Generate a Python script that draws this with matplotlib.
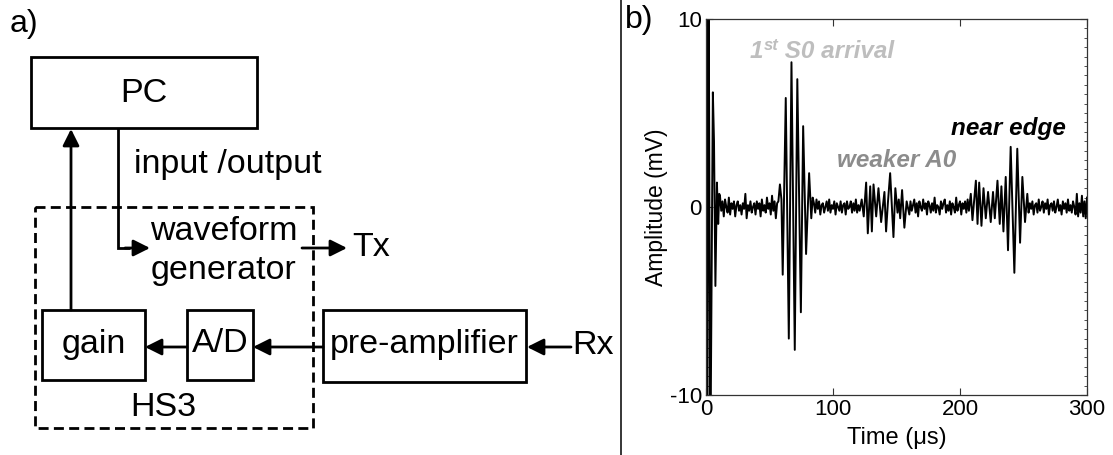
import numpy as np
import matplotlib
matplotlib.use('Agg')
import matplotlib.pyplot as plt
from matplotlib.patches import Rectangle
from matplotlib.lines import Line2D
from matplotlib.ticker import MultipleLocator

plt.rcParams['font.family'] = ['Liberation Sans', 'DejaVu Sans']
plt.rcParams['axes.unicode_minus'] = False

# ---------------- data ----------------
# direct / crosstalk burst at t=0 (clipped by the axis limits)
t_direct = [0.0, 0.4, 1.0, 2.0, 3.4, 5.4, 6.3, 7.4, 8.6, 9.6, 10.4]
a_direct = [0.0, 14.0, -14.0, 14.0, -14.0, 6.1, 3.5, -4.2, 1.3, -0.9, 0.7]

# background noise 11..56 us (1 us step)
noise1_start = 11.0
noise1 = [0.6, -0.2, 0.3, -0.5, 0.4, 0.0, -0.3, 0.5, -0.4, 0.2, -0.1, 0.3,
          -0.5, 0.1, 0.3, -0.2, 0.1, -0.4, 0.2, -0.1, 0.7, -0.6, 0.1, -0.2,
          0.3, -0.3, 0.0, 0.2, -0.4, 0.3, -0.1, 0.2, -0.5, 0.4, -0.2, 0.1,
          -0.3, 0.5, -0.1, 0.2, -0.4, 0.6, -0.2, 0.3, -0.6, 0.2]

# first S0 arrival
t_s0 = [57.0, 58.2, 59.4, 60.4, 62.8, 65.2, 67.3, 69.9, 71.9, 74.7, 76.5,
        78.8, 81.2, 82.9, 84.0]
a_s0 = [0.3, 1.2, 0.4, -3.6, 5.8, -7.0, 7.7, -7.6, 6.8, -5.6, 4.3,
        -2.5, 1.8, -0.6, 0.5]

noise2_start = 85.0
noise2 = [0.2, -0.3, 0.4, -0.1, 0.3, -0.4, 0.1, 0.2, -0.3, 0.0, 0.3, -0.2,
          0.4, -0.3, 0.1, -0.1, 0.3, -0.4, 0.2, 0.0, -0.2, 0.3, -0.3, 0.1,
          0.2, -0.4, 0.3, -0.1, 0.0, 0.3, -0.3, 0.2, -0.2, 0.4, -0.3, 0.1, -0.2]

# weaker A0
t_a0 = [122.6, 124.2, 126.1, 127.4, 129.3, 130.6, 131.9, 134.0, 135.8, 137.9,
        140.5, 141.8, 143.2, 145.0, 147.6, 149.1, 150.8, 151.8, 152.9, 154.4,
        156.2, 158.0, 160.1]
a_a0 = [0.4, -0.5, 1.3, -1.4, 1.1, -1.3, 1.2, -0.5, 1.0, -0.8,
        0.8, -1.3, 0.2, 1.8, -1.6, 1.0, -0.3, 0.4, -0.6, 0.9,
        -1.1, 0.3, -0.4]

noise3_start = 161.0
noise3 = [0.3, -0.2, 0.1, 0.4, -0.3, 0.2, -0.5, 0.3, 0.0, -0.2, 0.4, -0.1,
          0.2, -0.4, 0.3, 0.1, -0.3, 0.2, -0.2, 0.5, -0.3, 0.1, 0.0, -0.4,
          0.3, -0.1, 0.2, 0.4, -0.3, 0.1, -0.2, 0.3, -0.4, 0.2, 0.0, -0.3,
          0.5, -0.2, 0.1, 0.3, -0.4, 0.2, -0.1, 0.3, -0.3, 0.4, -0.2]

# near-edge reflection
t_ne = [208.5, 209.8, 212.5, 213.8, 215.1, 216.9, 218.5, 220.3, 222.1, 224.2,
        226.0, 227.4, 229.5, 231.3, 232.6, 234.2, 236.0, 237.8, 239.9, 242.8,
        245.1, 247.3, 249.1, 251.2, 253.0]
a_ne = [0.7, -0.7, 1.4, -0.9, 1.3, -1.0, 1.0, -0.6, 0.8, -0.8,
        0.8, -0.6, 1.4, -0.9, 1.1, -1.3, 1.6, -2.3, 3.2, -3.5,
        3.1, -1.9, 1.6, -0.8, 0.7]

noise4_start = 254.0
noise4 = [-0.3, 0.2, -0.1, 0.3, -0.4, 0.1, 0.2, -0.3, 0.4, -0.2, 0.0, 0.3,
          -0.3, 0.2, -0.1, 0.4, -0.4, 0.1, 0.2, -0.2, 0.3, -0.3, 0.0, 0.4,
          -0.2, 0.1, -0.4, 0.3, -0.1, 0.2, -0.3, 0.4, -0.2, 0.1, -0.3, 0.3,
          0.0, -0.4, 0.7, -0.5, 0.2, -0.3, 0.6, -0.5, 0.3, -0.6, 0.5]

x_ticks = [0, 100, 200, 300]
y_ticks = [-10, 0, 10]


def seg(start, vals):
    return list(start + np.arange(len(vals)) * 1.0), list(vals)


parts = [(t_direct, a_direct), seg(noise1_start, noise1), (t_s0, a_s0),
         seg(noise2_start, noise2), (t_a0, a_a0), seg(noise3_start, noise3),
         (t_ne, a_ne), seg(noise4_start, noise4)]
t_all = np.concatenate([np.asarray(p[0], float) for p in parts])
a_all = np.concatenate([np.asarray(p[1], float) for p in parts])

# ---------------- figure ----------------
W, H = 1113, 455
fig = plt.figure(figsize=(W / 100, H / 100), dpi=100)

# ----- left: block diagram (pixel coordinates of the panel) -----
d = fig.add_axes([0, 0, 1, 1])
d.set_xlim(0, W)
d.set_ylim(H, 0)
d.axis('off')

FS = 24.5
LW = 2.0


def box(x0, y0, x1, y1):
    d.add_patch(Rectangle((x0, y0), x1 - x0, y1 - y0, fill=False,
                          ec='k', lw=LW, joinstyle='miter'))


def arrow(x0, y0, x1, y1):
    d.annotate('', xy=(x1, y1), xytext=(x0, y0),
               arrowprops=dict(arrowstyle='-|>', lw=LW, color='k',
                               mutation_scale=25, shrinkA=0, shrinkB=0))


d.text(10, 24, 'a)', fontsize=23, ha='left', va='center')

box(31, 57, 257, 128)
d.text(144, 93, 'PC', fontsize=FS, ha='center', va='center')

# dashed HS3 enclosure
d.add_patch(Rectangle((35, 207), 313 - 35, 428 - 207, fill=False, ec='k',
                      lw=2.0, ls=(0, (3.6, 1.9))))
d.text(163, 407, 'HS3', fontsize=FS, ha='center', va='center')

# PC -> waveform generator
d.plot([118, 118, 130], [128, 248, 248], color='k', lw=LW,
       solid_capstyle='butt', solid_joinstyle='miter')
arrow(125, 248, 150, 248)
d.text(134, 165, 'input /output', fontsize=FS, ha='left', va='center')
d.text(224, 231, 'waveform', fontsize=FS, ha='center', va='center')
d.text(224, 271, 'generator', fontsize=FS, ha='center', va='center')

# Tx
arrow(302, 248, 347, 248)
d.text(352, 248, 'Tx', fontsize=FS, ha='left', va='center')

# gain -> PC
arrow(71, 310, 71, 129)

# boxes bottom row
box(42, 310, 145, 380)
d.text(93.5, 344, 'gain', fontsize=FS, ha='center', va='center')
box(187, 310, 253, 380)
d.text(220, 344, 'A/D', fontsize=FS, ha='center', va='center')
box(323, 310, 526, 382)
d.text(424.5, 344, 'pre-amplifier', fontsize=FS, ha='center', va='center')

arrow(323, 347, 253, 347)
arrow(187, 347, 145, 347)
arrow(571, 347, 527, 347)
d.text(572, 345, 'Rx', fontsize=FS, ha='left', va='center')

# separator
fig.add_artist(Line2D([621 / W, 621 / W], [0, 1], transform=fig.transFigure,
                      color='k', lw=1.1))

# ----- right: waveform -----
ax = fig.add_axes([706 / W, 1 - 395 / H, (1087 - 706) / W, (395 - 19) / H])
ax.plot(t_all, a_all, color='k', lw=1.4)
ax.set_xlim(0, 300)
ax.set_ylim(-10, 10)
ax.set_xticks(x_ticks)
ax.set_yticks(y_ticks)
ax.yaxis.set_minor_locator(MultipleLocator(0.5))
ax.tick_params(which='both', direction='in', top=True, right=True,
               labelsize=16, colors='#333333', labelcolor='k')
ax.tick_params(which='major', length=5, width=0.8, pad=3)
ax.tick_params(which='minor', length=2.5, width=0.6)
for s in ax.spines.values():
    s.set_color('#333333')
    s.set_linewidth(0.9)

ax.set_ylabel('Amplitude (mV)', fontsize=16.5)
ax.yaxis.set_label_coords(-0.10, 0.5)
ax.set_xlabel('Time (\u03bcs)', fontsize=17)
ax.xaxis.set_label_coords(0.5, -0.085)

# annotations
c1 = '#bebebe'
t1 = ax.text(34.5, 8.25, '1', fontsize=17.5, fontweight='bold',
             fontstyle='italic', color=c1, ha='left', va='center')
t2 = ax.annotate('st', xy=(1.0, 0.78), xycoords=t1, fontsize=12,
                 fontweight='bold', fontstyle='italic', color=c1,
                 ha='left', va='center')
ax.annotate(' S0 arrival', xy=(1.0, 0.0), xycoords=(t2, t1), fontsize=17.5,
            fontweight='bold', fontstyle='italic', color=c1,
            ha='left', va='bottom')
ax.text(103.5, 2.45, 'weaker A0', fontsize=17.5, fontweight='bold',
        fontstyle='italic', color='#8c8c8c', ha='left', va='center')
ax.text(193, 4.15, 'near edge', fontsize=17.5, fontweight='bold',
        fontstyle='italic', color='k', ha='left', va='center')

fig.text(625 / W, 1 - 20 / H, 'b)', fontsize=23, ha='left', va='center')

fig.savefig('out.png', dpi=100)
